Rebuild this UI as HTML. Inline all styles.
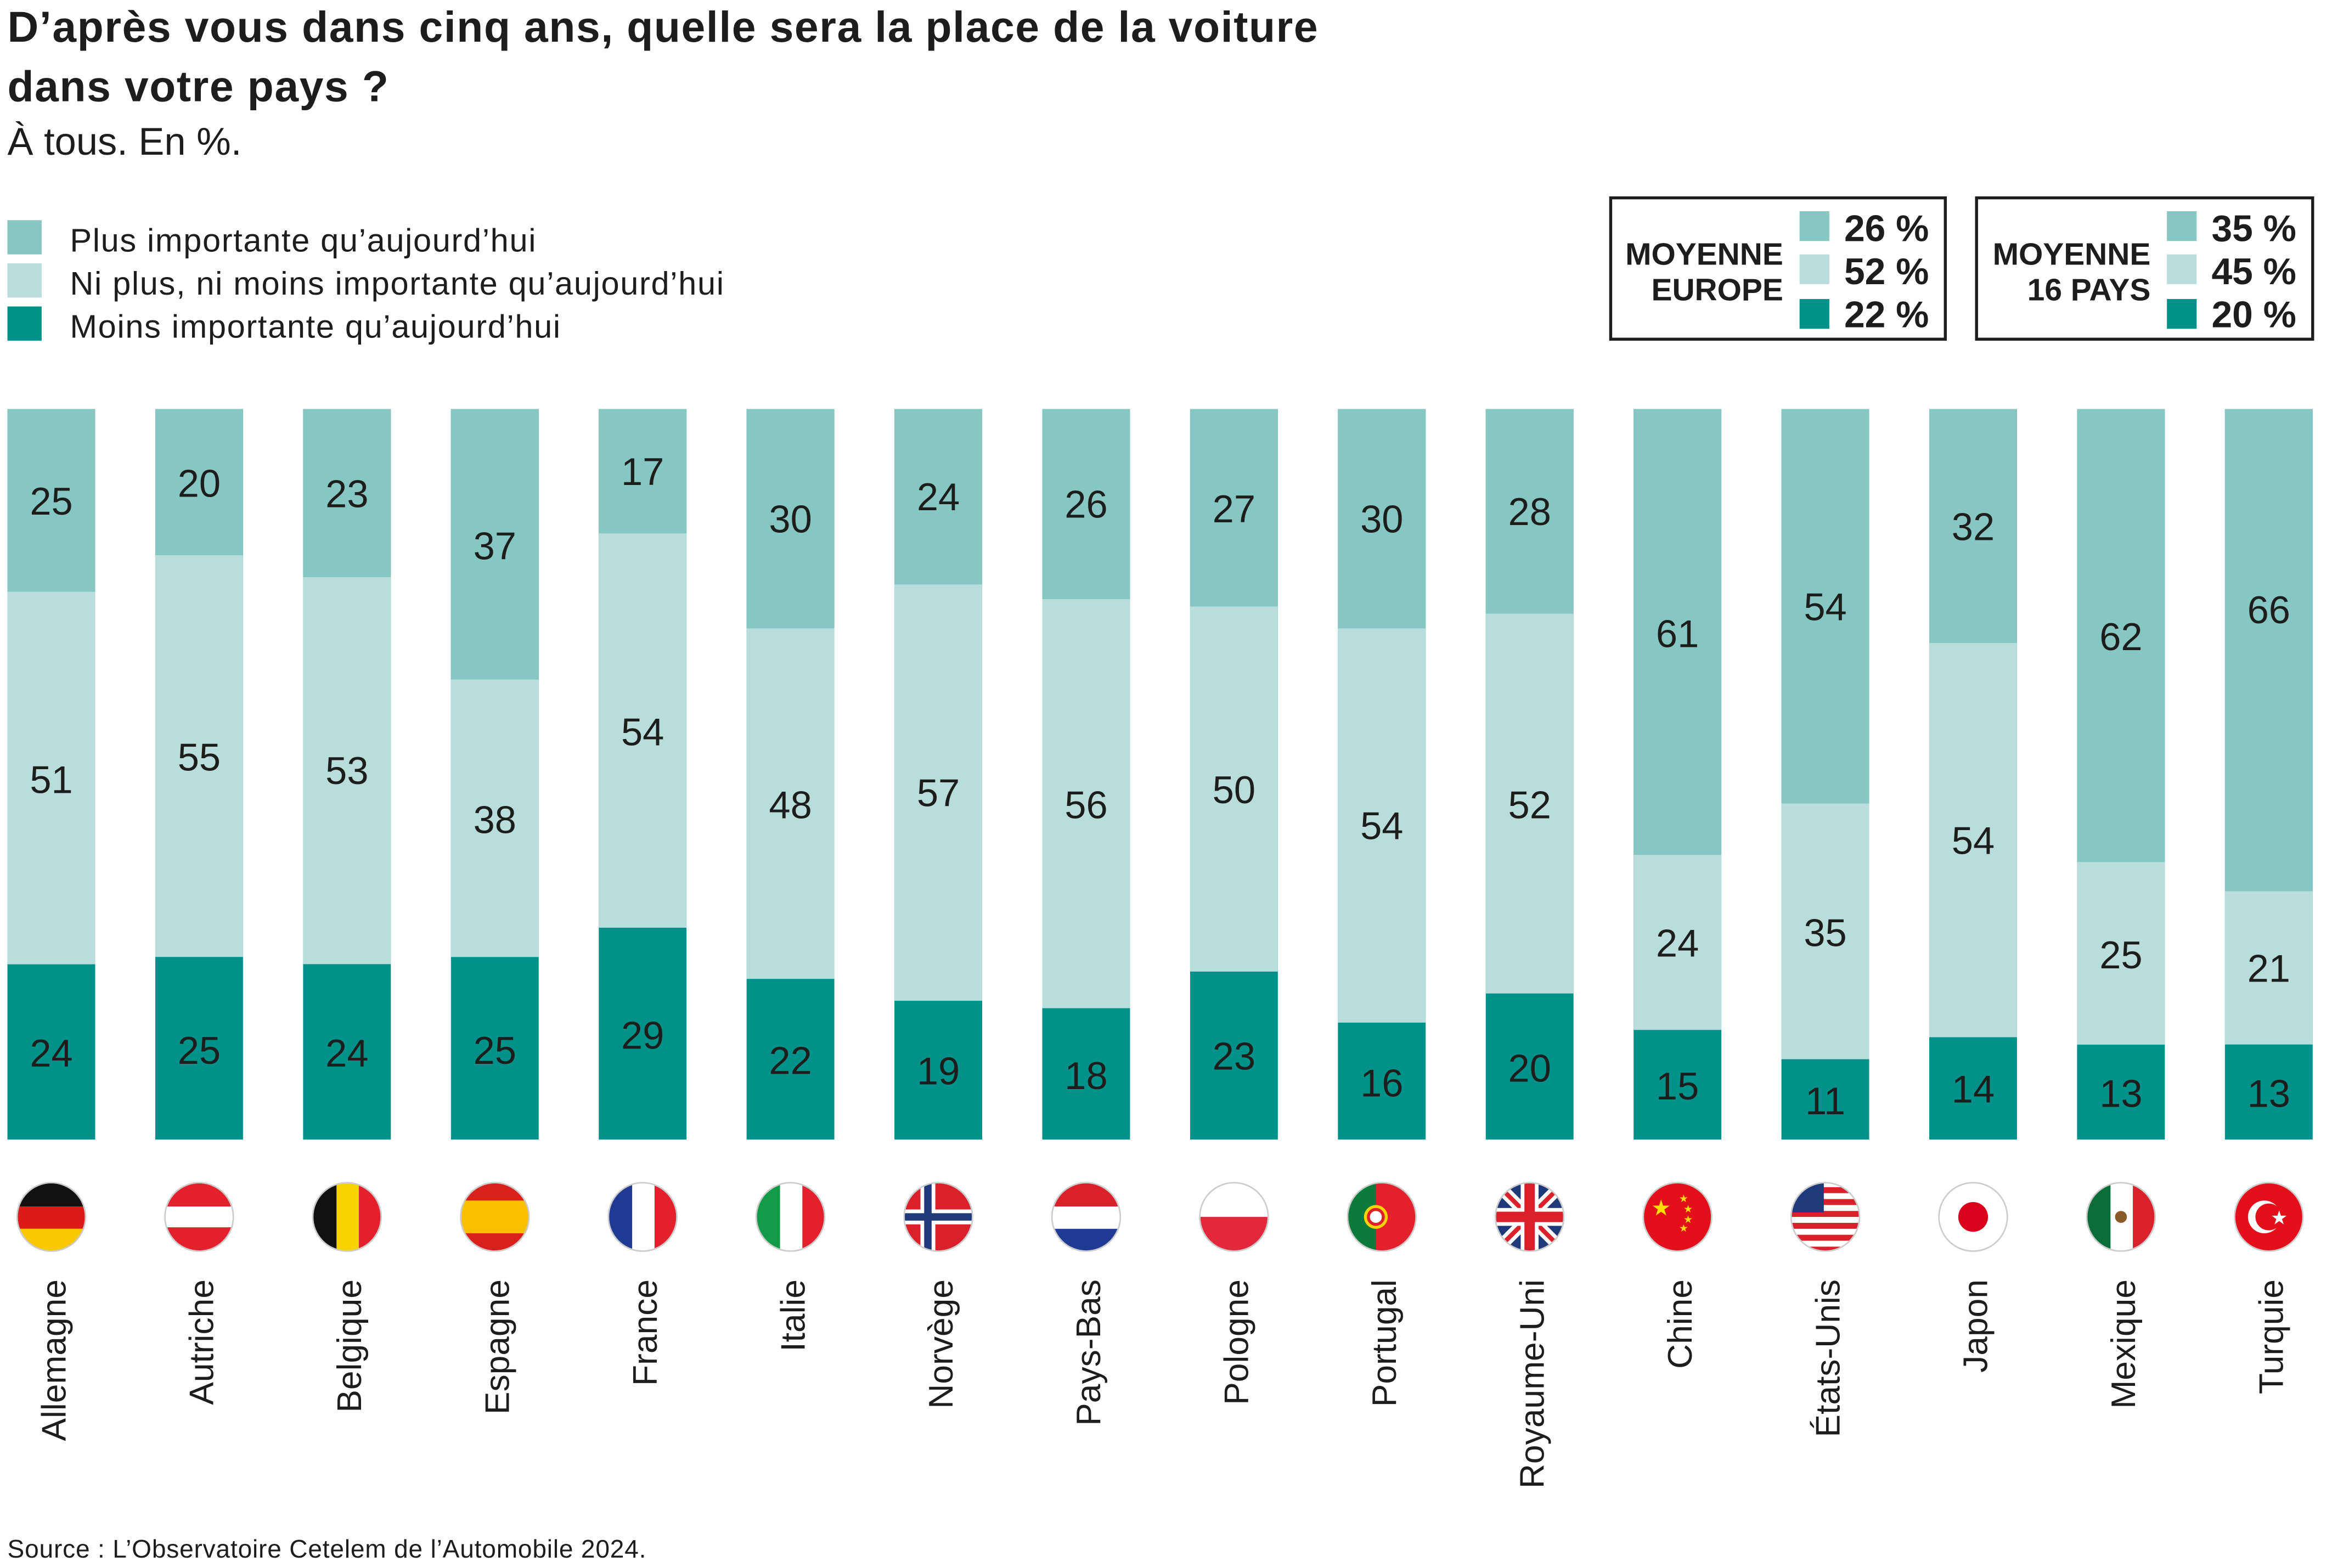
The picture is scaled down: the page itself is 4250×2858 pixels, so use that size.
<!DOCTYPE html>
<html><head><meta charset="utf-8"><style>html,body{margin:0;padding:0;background:#fff}svg{display:block}text{font-family:"Liberation Sans",sans-serif;fill:#1d1d1b}</style></head><body>
<svg width="4250" height="2858" viewBox="0 0 1568 1054" preserveAspectRatio="none" xmlns="http://www.w3.org/2000/svg">
<defs><clipPath id="c"><circle cx="0" cy="0" r="23"/></clipPath></defs>
<text x="5" y="28" font-size="29" font-weight="bold" letter-spacing="0.6">D’après vous dans cinq ans, quelle sera la place de la voiture</text>
<text x="5" y="68" font-size="29" font-weight="bold" letter-spacing="0.6">dans votre pays ?</text>
<text x="5" y="104" font-size="26">À tous. En %.</text>
<rect x="5" y="148" width="23" height="23" fill="#86c6c3"/><rect x="5" y="177" width="23" height="23" fill="#b8dddb"/><rect x="5" y="206" width="23" height="23" fill="#00928a"/>
<g font-size="22" letter-spacing="0.6"><text x="47" y="169">Plus importante qu’aujourd’hui</text>
<text x="47" y="198">Ni plus, ni moins importante qu’aujourd’hui</text>
<text x="47" y="227">Moins importante qu’aujourd’hui</text></g>
<rect x="1083" y="133" width="225" height="95" fill="none" stroke="#1d1d1b" stroke-width="2"/>
<rect x="1329" y="133" width="226" height="95" fill="none" stroke="#1d1d1b" stroke-width="2"/>
<g font-size="21" font-weight="bold" text-anchor="end"><text x="1199" y="178">MOYENNE</text><text x="1199" y="202">EUROPE</text><text x="1446" y="178">MOYENNE</text><text x="1446" y="202">16 PAYS</text></g>
<rect x="1210" y="142" width="20" height="20" fill="#86c6c3"/><rect x="1210" y="171" width="20" height="20" fill="#b8dddb"/><rect x="1210" y="201" width="20" height="20" fill="#00928a"/>
<rect x="1457" y="142" width="20" height="20" fill="#86c6c3"/><rect x="1457" y="171" width="20" height="20" fill="#b8dddb"/><rect x="1457" y="201" width="20" height="20" fill="#00928a"/>
<g font-size="25" font-weight="bold"><text x="1240" y="162">26 %</text><text x="1240" y="191">52 %</text><text x="1240" y="220">22 %</text><text x="1487" y="162">35 %</text><text x="1487" y="191">45 %</text><text x="1487" y="220">20 %</text></g>
<g id="bars">
<rect x="5" y="275" width="59" height="491" fill="#00928a"/><rect x="5" y="275" width="59" height="122.75" fill="#86c6c3"/><rect x="5" y="397.75" width="59" height="250.45" fill="#b8dddb"/>
<rect x="104.4" y="275" width="59" height="491" fill="#00928a"/><rect x="104.4" y="275" width="59" height="98.2" fill="#86c6c3"/><rect x="104.4" y="373.2" width="59" height="270.05" fill="#b8dddb"/>
<rect x="203.8" y="275" width="59" height="491" fill="#00928a"/><rect x="203.8" y="275" width="59" height="112.9" fill="#86c6c3"/><rect x="203.8" y="387.9" width="59" height="260.2" fill="#b8dddb"/>
<rect x="303.2" y="275" width="59" height="491" fill="#00928a"/><rect x="303.2" y="275" width="59" height="181.7" fill="#86c6c3"/><rect x="303.2" y="456.7" width="59" height="186.6" fill="#b8dddb"/>
<rect x="402.6" y="275" width="59" height="491" fill="#00928a"/><rect x="402.6" y="275" width="59" height="83.5" fill="#86c6c3"/><rect x="402.6" y="358.5" width="59" height="265.1" fill="#b8dddb"/>
<rect x="502" y="275" width="59" height="491" fill="#00928a"/><rect x="502" y="275" width="59" height="147.3" fill="#86c6c3"/><rect x="502" y="422.3" width="59" height="235.7" fill="#b8dddb"/>
<rect x="601.4" y="275" width="59" height="491" fill="#00928a"/><rect x="601.4" y="275" width="59" height="117.8" fill="#86c6c3"/><rect x="601.4" y="392.8" width="59" height="279.9" fill="#b8dddb"/>
<rect x="700.8" y="275" width="59" height="491" fill="#00928a"/><rect x="700.8" y="275" width="59" height="127.7" fill="#86c6c3"/><rect x="700.8" y="402.7" width="59" height="275" fill="#b8dddb"/>
<rect x="800.2" y="275" width="59" height="491" fill="#00928a"/><rect x="800.2" y="275" width="59" height="132.6" fill="#86c6c3"/><rect x="800.2" y="407.6" width="59" height="245.5" fill="#b8dddb"/>
<rect x="899.6" y="275" width="59" height="491" fill="#00928a"/><rect x="899.6" y="275" width="59" height="147.3" fill="#86c6c3"/><rect x="899.6" y="422.3" width="59" height="265.1" fill="#b8dddb"/>
<rect x="999" y="275" width="59" height="491" fill="#00928a"/><rect x="999" y="275" width="59" height="137.5" fill="#86c6c3"/><rect x="999" y="412.5" width="59" height="255.3" fill="#b8dddb"/>
<rect x="1098.4" y="275" width="59" height="491" fill="#00928a"/><rect x="1098.4" y="275" width="59" height="299.5" fill="#86c6c3"/><rect x="1098.4" y="574.5" width="59" height="117.8" fill="#b8dddb"/>
<rect x="1197.8" y="275" width="59" height="491" fill="#00928a"/><rect x="1197.8" y="275" width="59" height="265.1" fill="#86c6c3"/><rect x="1197.8" y="540.1" width="59" height="171.9" fill="#b8dddb"/>
<rect x="1297.2" y="275" width="59" height="491" fill="#00928a"/><rect x="1297.2" y="275" width="59" height="157.1" fill="#86c6c3"/><rect x="1297.2" y="432.1" width="59" height="265.1" fill="#b8dddb"/>
<rect x="1396.6" y="275" width="59" height="491" fill="#00928a"/><rect x="1396.6" y="275" width="59" height="304.4" fill="#86c6c3"/><rect x="1396.6" y="579.4" width="59" height="122.8" fill="#b8dddb"/>
<rect x="1496" y="275" width="59" height="491" fill="#00928a"/><rect x="1496" y="275" width="59" height="324" fill="#86c6c3"/><rect x="1496" y="599" width="59" height="103.1" fill="#b8dddb"/>
</g>
<g font-size="26" text-anchor="middle">
<text x="34.5" y="346">25</text><text x="34.5" y="533">51</text><text x="34.5" y="717">24</text>
<text x="133.9" y="334">20</text><text x="133.9" y="518">55</text><text x="133.9" y="715">25</text>
<text x="233.3" y="341">23</text><text x="233.3" y="527">53</text><text x="233.3" y="717">24</text>
<text x="332.7" y="376">37</text><text x="332.7" y="560">38</text><text x="332.7" y="715">25</text>
<text x="432.1" y="326">17</text><text x="432.1" y="501">54</text><text x="432.1" y="705">29</text>
<text x="531.5" y="358">30</text><text x="531.5" y="550">48</text><text x="531.5" y="722">22</text>
<text x="630.9" y="343">24</text><text x="630.9" y="542">57</text><text x="630.9" y="729">19</text>
<text x="730.3" y="348">26</text><text x="730.3" y="550">56</text><text x="730.3" y="732">18</text>
<text x="829.7" y="351">27</text><text x="829.7" y="540">50</text><text x="829.7" y="719">23</text>
<text x="929.1" y="358">30</text><text x="929.1" y="564">54</text><text x="929.1" y="737">16</text>
<text x="1028.5" y="353">28</text><text x="1028.5" y="550">52</text><text x="1028.5" y="727">20</text>
<text x="1127.9" y="435">61</text><text x="1127.9" y="643">24</text><text x="1127.9" y="739">15</text>
<text x="1227.3" y="417">54</text><text x="1227.3" y="636">35</text><text x="1227.3" y="749">11</text>
<text x="1326.7" y="363">32</text><text x="1326.7" y="574">54</text><text x="1326.7" y="741">14</text>
<text x="1426.1" y="437">62</text><text x="1426.1" y="651">25</text><text x="1426.1" y="744">13</text>
<text x="1525.5" y="419">66</text><text x="1525.5" y="660">21</text><text x="1525.5" y="744">13</text>
</g>
<g>
<g transform="translate(34.5,818)"><g clip-path="url(#c)"><rect x="-23" y="-23" width="46" height="16" fill="#111"/><rect x="-23" y="-7" width="46" height="15" fill="#dd1a1a"/><rect x="-23" y="8" width="46" height="16" fill="#f8c800"/></g></g>
<g transform="translate(133.9,818)"><g clip-path="url(#c)"><rect x="-23" y="-23" width="46" height="46" fill="#e3202b"/><rect x="-23" y="-7" width="46" height="14" fill="#fff"/></g></g>
<g transform="translate(233.3,818)"><g clip-path="url(#c)"><rect x="-23" y="-23" width="16" height="46" fill="#111"/><rect x="-7" y="-23" width="15" height="46" fill="#f8d300"/><rect x="8" y="-23" width="16" height="46" fill="#e3202b"/></g></g>
<g transform="translate(332.7,818)"><g clip-path="url(#c)"><rect x="-23" y="-23" width="46" height="46" fill="#d9201c"/><rect x="-23" y="-11" width="46" height="22" fill="#f8c000"/></g></g>
<g transform="translate(432.1,818)"><g clip-path="url(#c)"><rect x="-23" y="-23" width="16" height="46" fill="#1f3a93"/><rect x="-7" y="-23" width="15" height="46" fill="#fff"/><rect x="8" y="-23" width="16" height="46" fill="#e3202b"/></g></g>
<g transform="translate(531.5,818)"><g clip-path="url(#c)"><rect x="-23" y="-23" width="16" height="46" fill="#129a48"/><rect x="-7" y="-23" width="15" height="46" fill="#fff"/><rect x="8" y="-23" width="16" height="46" fill="#e3202b"/></g></g>
<g transform="translate(630.9,818)"><g clip-path="url(#c)"><rect x="-23" y="-23" width="46" height="46" fill="#d9202b"/><rect x="-23" y="-5" width="46" height="10" fill="#fff"/><rect x="-12" y="-23" width="10" height="46" fill="#fff"/><rect x="-23" y="-2.5" width="46" height="5" fill="#1f3a7a"/><rect x="-9.5" y="-23" width="5" height="46" fill="#1f3a7a"/></g></g>
<g transform="translate(730.3,818)"><g clip-path="url(#c)"><rect x="-23" y="-23" width="46" height="16" fill="#d9202b"/><rect x="-23" y="-7" width="46" height="15" fill="#fff"/><rect x="-23" y="8" width="46" height="16" fill="#1f3a93"/></g></g>
<g transform="translate(829.7,818)"><g clip-path="url(#c)"><rect x="-23" y="-23" width="46" height="23" fill="#fff"/><rect x="-23" y="0" width="46" height="23" fill="#e3283b"/></g></g>
<g transform="translate(929.1,818)"><g clip-path="url(#c)"><rect x="-23" y="-23" width="46" height="46" fill="#e3202b"/><rect x="-23" y="-23" width="19" height="46" fill="#0b7a3a"/><circle cx="-4" cy="0" r="8" fill="#f8d300"/><circle cx="-4" cy="0" r="5" fill="#fff" stroke="#d9202b" stroke-width="2"/></g></g>
<g transform="translate(1028.5,818)"><g clip-path="url(#c)"><rect x="-23" y="-23" width="46" height="46" fill="#1f3a7a"/><path d="M-23-23L23 23M23-23L-23 23" stroke="#fff" stroke-width="8"/><path d="M-23-23L23 23M23-23L-23 23" stroke="#d9202b" stroke-width="3"/><rect x="-23" y="-6" width="46" height="12" fill="#fff"/><rect x="-6" y="-23" width="12" height="46" fill="#fff"/><rect x="-23" y="-3.5" width="46" height="7" fill="#d9202b"/><rect x="-3.5" y="-23" width="7" height="46" fill="#d9202b"/></g></g>
<g transform="translate(1127.9,818)"><g clip-path="url(#c)"><rect x="-23" y="-23" width="46" height="46" fill="#e3101b"/><text x="-11" y="-1" font-size="15" text-anchor="middle" style="fill:#ffde00">★</text><text x="1" y="-10" font-size="7" style="fill:#ffde00">★</text><text x="4" y="-3" font-size="7" style="fill:#ffde00">★</text><text x="4" y="4" font-size="7" style="fill:#ffde00">★</text><text x="1" y="10" font-size="7" style="fill:#ffde00">★</text></g></g>
<g transform="translate(1227.3,818)"><g clip-path="url(#c)"><rect x="-23" y="-23" width="46" height="46" fill="#fff"/><rect x="-23" y="-20" width="46" height="4" fill="#d9202b"/><rect x="-23" y="-12" width="46" height="4" fill="#d9202b"/><rect x="-23" y="-4" width="46" height="4" fill="#d9202b"/><rect x="-23" y="4" width="46" height="4" fill="#d9202b"/><rect x="-23" y="12" width="46" height="4" fill="#d9202b"/><rect x="-23" y="20" width="46" height="4" fill="#d9202b"/><rect x="-23" y="-23" width="22" height="20" fill="#1f3a7a"/></g></g>
<g transform="translate(1326.7,818)"><g clip-path="url(#c)"><rect x="-23" y="-23" width="46" height="46" fill="#fff"/><circle r="10" fill="#d9001b"/></g></g>
<g transform="translate(1426.1,818)"><g clip-path="url(#c)"><rect x="-23" y="-23" width="16" height="46" fill="#0b6e3a"/><rect x="-7" y="-23" width="15" height="46" fill="#fff"/><rect x="8" y="-23" width="16" height="46" fill="#d9202b"/><circle r="4" fill="#8a5a2b"/></g></g>
<g transform="translate(1525.5,818)"><g clip-path="url(#c)"><rect x="-23" y="-23" width="46" height="46" fill="#e3101b"/><circle cx="-3" cy="0" r="11" fill="#fff"/><circle cx="0" cy="0" r="9" fill="#e3101b"/><text x="7" y="5" font-size="13" text-anchor="middle" style="fill:#fff">★</text></g></g>
</g>
<g fill="none" stroke="#ccc" stroke-width="1">
<circle cx="34.5" cy="818" r="23"/><circle cx="133.9" cy="818" r="23"/><circle cx="233.3" cy="818" r="23"/><circle cx="332.7" cy="818" r="23"/><circle cx="432.1" cy="818" r="23"/><circle cx="531.5" cy="818" r="23"/><circle cx="630.9" cy="818" r="23"/><circle cx="730.3" cy="818" r="23"/><circle cx="829.7" cy="818" r="23"/><circle cx="929.1" cy="818" r="23"/><circle cx="1028.5" cy="818" r="23"/><circle cx="1127.9" cy="818" r="23"/><circle cx="1227.3" cy="818" r="23"/><circle cx="1326.7" cy="818" r="23"/><circle cx="1426.1" cy="818" r="23"/><circle cx="1525.5" cy="818" r="23"/>
</g>
<g font-size="23" text-anchor="end">
<text transform="translate(44,860) rotate(-90)">Allemagne</text>
<text transform="translate(143.4,860) rotate(-90)">Autriche</text>
<text transform="translate(242.8,860) rotate(-90)">Belgique</text>
<text transform="translate(342.2,860) rotate(-90)">Espagne</text>
<text transform="translate(441.6,860) rotate(-90)">France</text>
<text transform="translate(541,860) rotate(-90)">Italie</text>
<text transform="translate(640.4,860) rotate(-90)">Norvège</text>
<text transform="translate(739.8,860) rotate(-90)">Pays-Bas</text>
<text transform="translate(839.2,860) rotate(-90)">Pologne</text>
<text transform="translate(938.6,860) rotate(-90)">Portugal</text>
<text transform="translate(1038,860) rotate(-90)">Royaume-Uni</text>
<text transform="translate(1137.4,860) rotate(-90)">Chine</text>
<text transform="translate(1236.8,860) rotate(-90)">États-Unis</text>
<text transform="translate(1336.2,860) rotate(-90)">Japon</text>
<text transform="translate(1435.6,860) rotate(-90)">Mexique</text>
<text transform="translate(1535,860) rotate(-90)">Turquie</text>
</g>
<text x="5" y="1047" font-size="17" letter-spacing="0.3">Source : L’Observatoire Cetelem de l’Automobile 2024.</text>
</svg>
</body></html>
